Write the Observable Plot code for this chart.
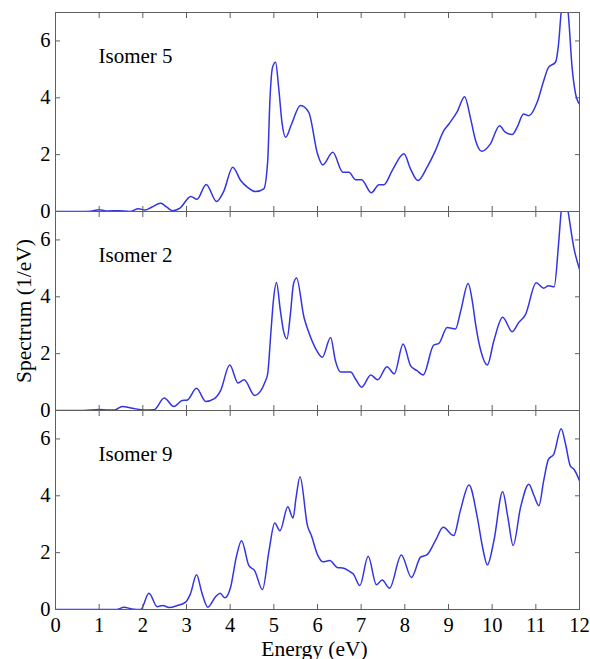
<!DOCTYPE html>
<html>
<head>
<meta charset="utf-8">
<script src="https://cdn.jsdelivr.net/npm/d3@7"></script>
<script src="https://cdn.jsdelivr.net/npm/@observablehq/plot@0.6"></script>
<style>
  html, body { margin: 0; padding: 0; background: #fff; }
</style>
</head>
<body>
<div id="chart"></div>
<script>
const isomers = ["Isomer 5", "Isomer 2", "Isomer 9"];
const xTicks = [0,1,2,3,4,5,6,7,8,9,10,11,12];
const yTicks = [0,2,4,6];

const energy5 = [0,0.6,0.8,1.0,1.2,1.45,1.7,1.9,2.05,2.2,2.41,2.55,2.68,2.85,3.1,3.24,3.45,3.69,3.85,4.06,4.24,4.4,4.58,4.77,4.86,4.91,4.97,5.04,5.11,5.19,5.27,5.4,5.61,5.8,6.0,6.12,6.35,6.58,6.72,6.87,7.01,7.23,7.41,7.52,7.71,7.98,8.13,8.3,8.51,8.7,8.88,9.01,9.2,9.37,9.5,9.62,9.76,9.96,10.17,10.3,10.46,10.57,10.72,10.84,11.03,11.18,11.29,11.45,11.52,11.58,11.66,11.74,11.83,11.91,12.0];
const spec5   = [0,0,0.01,0.06,0.02,0.03,0.0,0.1,0.05,0.15,0.29,0.15,0.03,0.12,0.53,0.43,0.95,0.35,0.7,1.56,1.09,0.85,0.7,0.8,1.79,3.9,5.07,5.25,4.37,3.09,2.61,3.05,3.73,3.49,2.03,1.64,2.08,1.38,1.38,1.12,1.12,0.66,0.94,0.94,1.44,2.03,1.5,1.09,1.56,2.14,2.81,3.08,3.51,4.04,3.31,2.5,2.12,2.38,3.02,2.79,2.71,2.96,3.43,3.37,3.84,4.6,5.07,5.25,5.89,7.0,7.6,7.0,5.07,4.14,3.78];

const energy2 = [0,0.65,1.0,1.2,1.35,1.53,1.76,2.03,2.26,2.49,2.71,2.9,3.02,3.23,3.44,3.63,3.78,3.99,4.18,4.32,4.56,4.81,4.86,4.93,4.99,5.06,5.15,5.22,5.3,5.38,5.45,5.52,5.69,5.8,5.96,6.11,6.3,6.41,6.53,6.76,6.87,7.01,7.22,7.38,7.59,7.76,7.96,8.13,8.28,8.42,8.66,8.78,8.97,9.16,9.28,9.45,9.55,9.62,9.74,9.89,10.04,10.24,10.46,10.61,10.76,11.01,11.18,11.29,11.42,11.52,11.58,11.66,11.74,11.87,12.0];
const spec2   = [0,0,0.035,0.02,0.02,0.14,0.08,0.02,0.03,0.44,0.14,0.35,0.37,0.78,0.32,0.41,0.7,1.6,0.97,1.08,0.53,1.05,1.3,2.69,3.86,4.5,3.51,2.81,2.52,3.4,4.45,4.66,3.28,2.75,2.17,1.87,2.57,1.75,1.35,1.35,1.11,0.82,1.25,1.08,1.54,1.29,2.34,1.58,1.4,1.25,2.3,2.36,2.92,2.87,3.5,4.47,3.8,3.04,2.1,1.6,2.46,3.28,2.77,3.1,3.36,4.49,4.3,4.39,4.35,5.85,7.0,7.8,7.0,5.73,4.97];

const energy9 = [0,1.4,1.57,1.75,1.95,2.14,2.33,2.46,2.6,2.79,2.98,3.09,3.23,3.35,3.49,3.67,3.77,3.88,4.01,4.14,4.26,4.43,4.56,4.74,4.89,5.02,5.14,5.32,5.44,5.51,5.6,5.77,5.86,6.0,6.12,6.28,6.45,6.6,6.74,6.82,6.97,7.16,7.35,7.48,7.65,7.92,8.15,8.36,8.51,8.7,8.88,9.12,9.27,9.47,9.66,9.78,9.89,10.04,10.24,10.36,10.48,10.65,10.84,10.96,11.07,11.18,11.29,11.41,11.58,11.68,11.79,11.87,12.0];
const spec9   = [0,0,0.08,0.02,0,0.57,0.1,0.14,0.07,0.14,0.26,0.55,1.22,0.6,0.08,0.46,0.57,0.41,0.78,1.84,2.42,1.54,1.37,0.7,2.07,3.04,2.77,3.61,3.22,3.94,4.67,2.95,2.6,1.93,1.68,1.72,1.48,1.45,1.33,1.25,0.84,1.87,0.87,1.04,0.75,1.92,1.13,1.84,1.93,2.42,2.89,2.6,3.47,4.38,3.24,2.19,1.57,2.42,4.14,3.24,2.25,3.59,4.41,4.0,3.65,4.53,5.29,5.46,6.36,5.82,5.05,4.94,4.53];

const series = [
  {name: isomers[0], e: energy5, v: spec5},
  {name: isomers[1], e: energy2, v: spec2},
  {name: isomers[2], e: energy9, v: spec9}
];
const rows = series.flatMap(s => s.e.map((e, i) => ({isomer: s.name, e, v: s.v[i]})));

const frameColor = "#5f5f5f";
const font = "'Liberation Serif', 'Times New Roman', serif";

const chart = Plot.plot({
  width: 590,
  height: 659,
  marginLeft: 55,
  marginRight: 11,
  marginTop: 12,
  marginBottom: 50,
  style: {fontFamily: font, fontSize: "20px", background: "#fff", color: "#000"},
  x: {domain: [0, 12], label: null},
  y: {domain: [0, 7], label: null},
  fy: {domain: isomers, padding: 0, axis: null, label: null},
  marks: [
    Plot.line(rows, {x: "e", y: "v", fy: "isomer", stroke: "#3434e2", strokeWidth: 1.5, curve: "monotone-x", clip: true}),
    Plot.frame({stroke: frameColor, strokeWidth: 1}),
    Plot.axisX({anchor: "bottom", ticks: xTicks, tickSize: -5, tickFormat: () => "", stroke: frameColor, facetAnchor: null, label: null}),
    Plot.axisX({anchor: "top", ticks: xTicks, tickSize: -5, tickFormat: () => "", stroke: frameColor, facetAnchor: null, label: null}),
    Plot.axisY({anchor: "left", ticks: yTicks, tickSize: -5, tickFormat: () => "", stroke: frameColor, facetAnchor: null, label: null}),
    Plot.axisY({anchor: "right", ticks: yTicks, tickSize: -5, tickFormat: () => "", stroke: frameColor, facetAnchor: null, label: null}),
    Plot.axisX({anchor: "bottom", ticks: xTicks, tickSize: 0, tickPadding: 8, tickFormat: d3.format("d"), fontSize: 20.5, label: null}),
    Plot.axisY({anchor: "left", ticks: yTicks, tickSize: 0, tickPadding: 5, tickFormat: d3.format("d"), fontSize: 20.5, facetAnchor: null, label: null}),
    Plot.text(isomers, {fy: d => d, text: d => d, frameAnchor: "top-left", dx: 43, dy: 50, lineAnchor: "bottom", textAnchor: "start", fontSize: 21}),
    Plot.text(["Spectrum (1/eV)"], {fy: () => isomers[1], text: d => d, frameAnchor: "left", textAnchor: "middle", dx: -31, rotate: -90, fontSize: 21.5}),
    Plot.text(["Energy (eV)"], {fy: () => isomers[2], text: d => d, frameAnchor: "bottom", dx: -3, dy: 46, lineAnchor: "bottom", fontSize: 21.5})
  ]
});
document.getElementById("chart").appendChild(chart);
</script>
</body>
</html>
